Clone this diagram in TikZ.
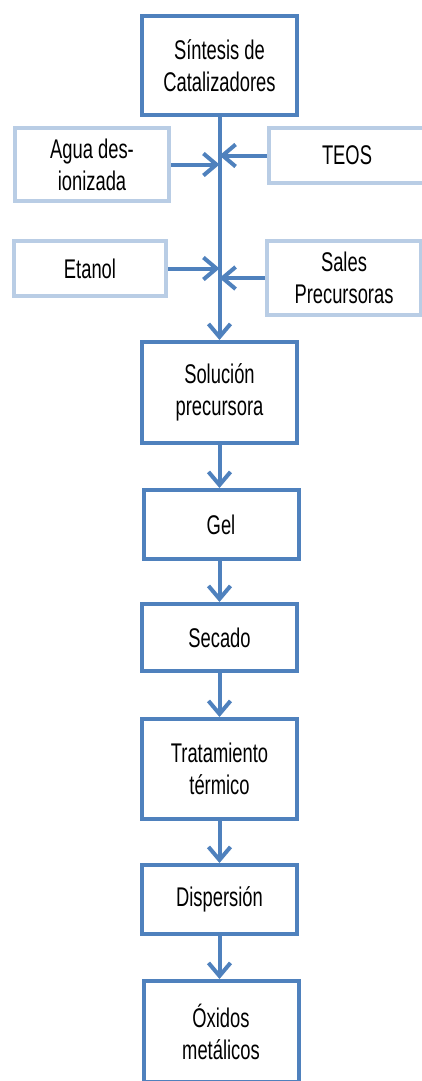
\documentclass[tikz,border=0pt]{standalone}
\usepackage{fontspec}
\setmainfont{Liberation Sans}[FakeStretch=0.68]
\usetikzlibrary{arrows.meta}
\definecolor{stepblue}{RGB}{79,129,189}
\definecolor{inblue}{RGB}{185,205,229}

\begin{document}
\begin{tikzpicture}[x=1pt, y=-1pt, font=\fontsize{27}{32}\selectfont]
    \tikzstyle{node_step} = [draw=stepblue, line width=4pt, rectangle, fill=white, minimum width=155pt, align=center, inner sep=0pt]
    \tikzstyle{node_input} = [draw=inblue, line width=4pt, rectangle, fill=white, align=center, inner sep=0pt]
    \tikzstyle{arrow_blue} = [-{Straight Barb[length=13pt, width=22pt]}, stepblue, line width=4pt]

    \useasboundingbox (0,0) rectangle (421,1081);

    \node[node_step, minimum height=99pt] (sintesis) at (219.5,65.5) {Síntesis de\\Catalizadores};
    \node[node_input, minimum width=154pt, minimum height=73pt] (agua) at (92,164.5) {Agua des-\\ionizada};
    \node[node_input, minimum width=156pt, minimum height=55pt] (teos) at (347,155.5) {TEOS};
    \node[node_input, minimum width=152pt, minimum height=55pt] (etanol) at (90,268.5) {Etanol};
    \node[node_input, minimum width=154pt, minimum height=74pt] (sales) at (344,278) {Sales\\Precursoras};

    \node[node_step, minimum height=101pt] (solucion) at (219.5,392.5) {Solución\\precursora};
    \node[node_step, minimum height=69pt] (gel) at (221,524.5) {Gel};
    \node[node_step, minimum height=67pt] (secado) at (219.5,637.5) {Secado};
    \node[node_step, minimum height=100pt] (tratamiento) at (219.5,769) {Tratamiento\\térmico};
    \node[node_step, minimum height=69pt] (dispersion) at (219.5,899.5) {Dispersión};
    \node[node_step, minimum height=101pt] (oxidos) at (221,1031.5) {Óxidos\\metálicos};

    % entradas al eje principal
    \draw[arrow_blue] (sintesis) -- (solucion);
    \draw[arrow_blue] (agua.east) -- (agua.east -| sintesis.south);
    \draw[arrow_blue] (teos.west) -- (teos.west -| sintesis.south);
    \draw[arrow_blue] (etanol.east) -- (etanol.east -| sintesis.south);
    \draw[arrow_blue] (sales.west) -- (sales.west -| sintesis.south);

    \draw[arrow_blue] (solucion.south) -- (solucion.south |- gel.north);
    \draw[arrow_blue] (gel.south -| secado.north) -- (secado.north);
    \draw[arrow_blue] (secado) -- (tratamiento);
    \draw[arrow_blue] (tratamiento) -- (dispersion);
    \draw[arrow_blue] (dispersion.south) -- (dispersion.south |- oxidos.north);

\end{tikzpicture}
\end{document}
